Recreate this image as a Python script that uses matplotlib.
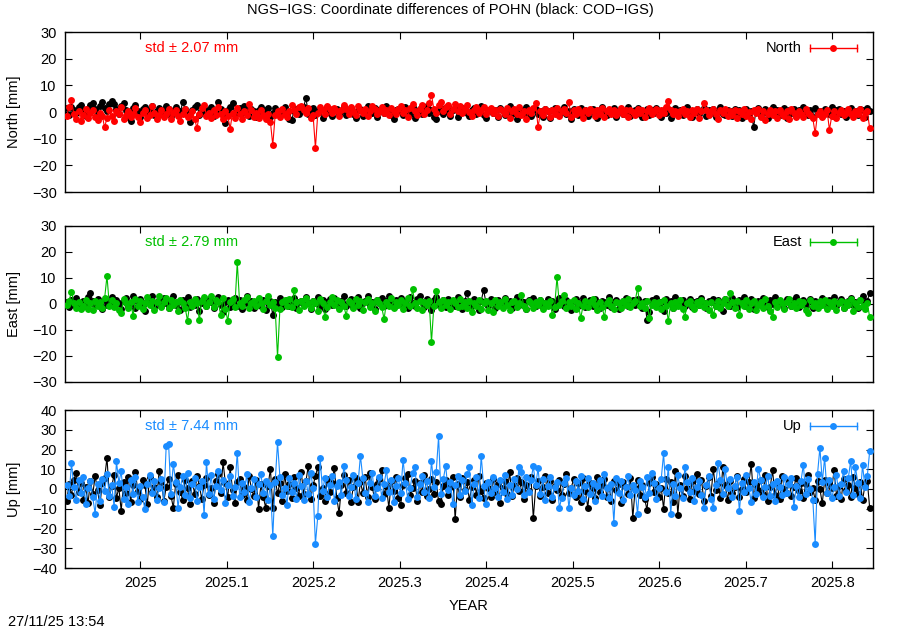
import numpy as np
import matplotlib
matplotlib.use("Agg")
import matplotlib.pyplot as plt

plt.rcParams['font.family'] = ['Liberation Sans', 'DejaVu Sans']
plt.rcParams['font.size'] = 10.5

# daily solutions, first day and count
t_start = 2024.915
n_days = 340
xlim = (2024.913, 2025.847)

xtick_vals = [2025.0, 2025.1, 2025.2, 2025.3, 2025.4, 2025.5, 2025.6, 2025.7, 2025.8]
xtick_labels = ['2025', '2025.1', '2025.2', '2025.3', '2025.4', '2025.5', '2025.6', '2025.7', '2025.8']

# North [mm]: black = COD-IGS, red = NGS-IGS
north_cod = [
    1.5, -1.2, 2.0, 0.8, -0.5, 1.8, 2.5, 0.3, -1.5, 1.2, 2.8, 3.2, 1.0, -0.8, 2.4, 3.8, 1.5, 0.2, 2.9, 4.1,
    3.0, 1.2, -0.6, 2.2, 3.5, 0.8, -1.8, -3.5, 1.4, 2.6, 0.2, -2.0, 1.0, 1.8, -0.4, 0.9, 2.1, -1.2, 0.5, 1.6,
    -0.8, 0.6, 2.2, 1.0, -1.5, 0.3, 1.7, -0.9, 0.4, 3.6, 1.2, -0.5, -3.8, 0.8, 1.9, 2.6, -1.0, 0.2, 1.5, -0.6,
    0.9, 2.0, -1.4, 0.5, 3.8, 1.1, -0.8, -4.2, 0.6, 1.8, 3.2, -1.2, 0.4, 1.6, -0.3, 2.4, 0.7, -1.6, 1.2, 0.3,
    -2.0, 0.8, 1.9, -0.5, 0.6, 1.4, -1.8, -0.4, 1.6, 0.2, -1.0, 0.9, 2.0, -0.7, -2.6, -3.0, 0.5, 1.2, -0.9, 0.4,
    1.8, 5.2, -0.6, 0.9, 1.5, -1.3, 0.2, 1.1, -2.4, 0.6, 1.9, -0.2, -1.5, 0.8, 1.3, -0.8, 0.4, 2.0, -1.1, 0.5,
    1.4, -0.6, -2.2, 0.7, 1.2, -1.6, 0.3, 2.1, 0.9, -0.5, 1.5, -1.9, 0.6, 1.1, -0.4, 2.3, 0.5, -1.3, -2.5, 0.8,
    1.3, 0.2, -1.0, 2.0, 0.6, -0.9, 1.7, -2.3, 0.4, 1.0, -0.6, 1.5, 2.2, -0.3, 0.9, -1.8, -2.8, 0.5, 1.6, -0.7,
    0.3, 1.8, -1.4, 0.6, 1.1, -2.0, 0.2, 1.6, 0.8, -0.5, -1.6, 0.9, 1.4, -0.8, 0.5, 2.3, -1.2, -2.4, 0.7, 1.2,
    -0.4, 0.8, -2.0, 1.5, 0.3, -1.1, 0.9, 2.2, -0.6, 0.4, -2.6, 1.0, 0.6, -0.9, 1.7, -0.2, -1.5, 0.8, 1.3, -0.7,
    0.5, -1.8, 1.2, 0.2, -2.2, 0.9, 1.6, -0.5, -1.3, 0.7, 1.9, -0.8, 0.3, -2.7, 1.1, 0.6, -1.0, 1.5, -0.3, 0.8,
    -1.6, 0.4, 1.3, -0.9, -2.4, 0.6, 1.8, 0.1, -1.2, 0.9, -0.4, 1.4, -2.0, 0.5, 1.0, -0.7, 0.3, 2.0, -1.5, -0.2,
    0.7, 1.6, -0.6, -2.0, 0.4, 1.2, -1.1, 0.8, -0.3, 1.5, 0.2, -1.7, 0.9, -0.5, 1.1, -2.2, 0.3, 1.4, -0.8, 0.6,
    -1.3, 0.9, 1.7, -0.4, -2.0, 0.5, 1.2, -0.9, 0.3, 1.6, -1.5, 0.7, -0.2, 1.1, -1.8, 0.4, 1.9, -0.6, -1.2, 0.8,
    0.2, -1.4, 1.3, -0.7, 0.9, -2.3, 0.5, 1.1, -1.0, 0.3, -5.8, 0.6, 1.4, -1.6, -0.3, 1.0, -2.1, 0.4, 1.7, -0.5,
    0.8, -1.2, 0.3, 1.5, -2.4, 0.6, -0.4, 1.2, -1.6, 0.9, -0.8, 1.8, 0.2, -1.3, 0.7, -2.0, 1.4, -0.3, 0.5, -1.5,
    1.1, 0.4, -0.9, 1.9, -1.4, 0.6, 1.3, -0.7, 0.2, -1.9, 0.9, 1.6, -0.5, 0.3, -1.2, 1.0, 0.6, -2.0, 1.4, 0.5,
]
north_ngs = [
    -1.5, 2.0, 4.6, -0.8, -2.6, 0.5, -3.2, -1.0, 1.2, -2.4, -0.5, 0.8, -1.8, -3.0, -0.2, -1.4, -5.8, -2.2, 0.6, -1.6,
    -3.4, 0.2, -0.9, 1.8, -2.8, -1.2, 0.4, -2.0, -0.6, 1.5, -1.7, -3.6, -0.3, 0.9, -2.2, -1.0, 2.4, -0.4, -2.6, -1.3,
    0.7, -1.9, -0.8, 1.2, -2.5, -0.2, 0.6, -1.5, -3.2, -0.7, 1.0, -2.0, -1.1, 0.3, -2.7, -6.0, -0.9, 1.6, 2.8, -1.4,
    -0.5, -2.3, 0.8, -1.2, 1.9, -0.6, -2.8, 0.4, -1.6, -6.2, -0.3, -2.1, 1.4, -0.8, -2.5, 0.2, -1.3, 2.9, 0.6, -1.7,
    -0.4, -2.2, 0.9, -1.0, -2.8, -0.6, -3.8, -12.4, -1.2, 0.5, -2.0, 1.1, -0.7, -1.8, 0.3, 2.6, 0.8, -0.9, 1.8, 2.4,
    0.6, -0.5, 1.5, -2.2, -1.0, -13.5, -0.4, 1.9, 0.7, -0.8, 2.2, 1.0, -0.3, 1.6, 0.4, -1.4, 0.9, 2.5, 1.2, -0.6,
    1.7, 0.3, -1.1, 2.1, 0.8, -0.4, 1.3, -1.6, 0.5, 2.3, 1.1, -0.9, 0.4, 1.8, -0.2, 0.9, -1.3, 1.5, 0.2, -0.7,
    1.0, 2.4, -0.5, 0.7, -1.9, 1.6, 3.0, 0.3, -1.2, 1.2, 2.6, -0.6, 0.8, 3.4, 6.5, 1.1, -0.4, 2.8, 3.6, 0.5,
    1.9, 2.7, -0.8, 1.3, 3.0, 0.4, 2.2, -0.5, 1.0, 2.5, 0.1, -1.4, 0.9, 1.7, -0.3, 0.6, 2.0, -0.9, 0.8, 1.4,
    -0.2, 0.7, -1.5, 1.2, 0.3, -0.8, 1.6, -2.2, 0.5, 1.0, -0.6, 2.0, -1.0, 0.4, -2.6, 0.9, -0.3, 1.5, 3.4, -5.8,
    0.2, -1.2, 1.1, 0.5, -2.0, 0.8, -0.7, 1.4, -1.6, 0.3, 1.0, -0.5, 3.8, -1.8, 0.6, -0.9, 1.3, -0.2, -2.3, 0.7,
    -0.4, 1.2, 0.3, -1.4, 0.9, -0.8, 1.6, -2.0, 0.4, 1.1, -0.6, 0.7, -1.3, 0.2, 1.5, -0.9, 0.6, -1.7, 0.8, 0.1,
    -1.0, 1.3, -0.3, 0.7, -1.9, 0.5, 1.4, -0.7, 0.2, 1.0, -1.2, 0.6, -0.4, 1.8, 4.0, 0.9, -0.8, 0.4, -1.5, 0.3,
    1.2, -0.6, 0.5, -1.8, 0.8, -0.3, 1.0, -2.1, 0.4, 3.4, 0.7, -1.1, 0.2, 1.3, -0.9, -2.6, 0.6, -0.4, 1.1, -1.6,
    0.3, -1.0, 0.9, -2.4, 0.5, -0.7, 1.2, -1.5, 0.1, -2.8, 0.6, -0.5, 1.0, -1.9, 0.4, -3.0, -0.8, 0.7, -1.3, 0.2,
    -2.2, 0.8, -0.6, -1.4, 0.5, -2.6, 1.0, -0.3, -1.8, 0.4, -0.9, -2.0, 1.3, -0.5, -1.2, -2.4, -8.0, -0.6, 0.3, -1.7,
    -0.8, 0.9, -6.7, -1.5, 0.2, -2.1, -0.4, 0.8, -1.3, -0.2, 1.1, -0.9, -1.8, 0.5, -0.6, 1.0, -2.3, -0.4, 0.3, -6.0,
]

# East [mm]
east_cod = [
    0.8, -1.2, 1.5, -0.4, 2.2, 0.3, -1.6, 1.0, -0.8, 2.6, 4.2, 1.1, -0.5, 2.0, 0.6, -1.8, 1.4, -0.3, 0.9, 2.8,
    -0.6, 1.7, 0.2, -2.0, 1.0, 2.4, -0.9, 0.5, 3.2, -1.4, 0.8, 1.9, -0.2, -2.6, 1.2, 0.4, 2.9, -1.0, 0.6, 1.5,
    -0.8, 2.2, 0.3, -1.7, 1.1, 3.0, -0.4, 0.7, -2.2, 1.6, 0.1, 2.5, -1.2, 0.9, -0.5, 1.8, -2.6, 0.4, 1.3, -0.9,
    2.1, 0.6, -1.5, 1.0, 2.7, -0.3, -2.9, 0.8, 1.5, -1.1, 0.2, 2.3, -0.7, 1.4, -1.9, 0.5, 3.0, -0.2, 1.1, -1.4,
    0.7, 2.0, -0.8, 1.6, -2.3, 0.4, 1.2, -4.2, 0.9, -0.5, 2.4, -1.3, 0.6, 1.7, -0.9, 0.3, 2.2, -1.6, 0.8, 1.3,
    -0.4, 2.6, 0.5, -1.8, 1.0, 0.2, 2.8, -0.7, 1.5, -2.1, 0.6, 1.9, -0.3, 2.4, 0.9, -1.2, 1.3, 3.1, -0.6, 0.4,
    1.8, -1.0, 0.7, 2.5, -1.6, 0.3, 1.2, 2.9, -0.5, 0.8, -2.0, 1.6, 0.2, 2.2, -0.8, 1.0, 3.2, 0.4, -1.3, 1.7,
    0.6, 2.3, -0.9, 1.1, -1.5, 2.7, 0.3, -0.6, 1.9, 3.0, 0.8, -1.1, 2.0, 0.5, -2.4, 1.4, 2.6, -0.4, 0.9, 1.6,
    -1.2, 2.1, 0.4, 1.3, -0.7, 2.5, 0.6, -1.9, 1.0, 4.3, 0.2, -0.8, 1.8, 0.7, -2.2, 1.2, 5.4, 0.5, -0.6, 2.0,
    0.9, -1.4, 1.6, 0.3, -0.9, 2.2, 0.6, 1.3, -1.7, 0.4, 2.6, -0.5, 1.1, 0.8, -2.0, 1.5, 0.2, 2.3, -0.8, 0.7,
    1.4, -1.1, 0.5, 2.0, -0.4, 1.2, -1.8, 0.8, 2.4, 0.1, -0.7, 1.6, 0.5, -2.3, 1.0, 1.9, -0.9, 0.3, 2.2, -1.2,
    0.6, 1.5, -0.6, 2.1, 0.2, -1.5, 1.3, 0.7, -0.3, 2.6, -1.0, 0.9, 1.7, -2.0, 0.4, 1.1, 2.3, -0.8, 0.5, 1.6,
    -0.5, 2.0, 0.8, -1.6, 1.2, -6.0, -3.2, 1.5, 0.3, 2.2, -0.9, 0.6, -2.6, 1.9, 0.4, 1.0, -1.4, 2.5, -0.2, 0.8,
    1.6, -0.7, 0.4, 2.1, -1.2, 0.9, 1.3, -0.4, 2.4, 0.2, -1.6, 1.1, 0.6, 2.0, -0.8, 1.4, 0.3, -2.7, 1.8, 0.5,
    -0.6, 2.2, 0.9, -1.3, 1.5, 0.2, 2.6, -0.9, 0.7, 1.8, -1.8, 0.4, 1.2, -0.5, 2.3, 0.6, -1.0, 1.6, 0.1, 2.8,
    -0.4, 1.0, 0.5, -1.5, 2.0, 0.8, -0.7, 1.4, 2.5, -1.1, 0.3, 1.7, -0.9, 0.6, 2.1, -1.6, 1.2, 0.4, -0.3, 2.4,
    0.9, -1.2, 1.5, 0.2, 2.7, -0.8, 0.6, 1.9, -1.7, 0.4, 1.1, 2.2, -0.5, 0.8, -1.4, 1.6, 2.9, 0.3, 1.2, 4.3,
]
east_ngs = [
    -0.5, 1.2, 4.8, 0.3, -1.4, 0.8, -2.0, -0.6, 1.5, -1.8, 0.2, -2.5, 1.0, -0.9, 0.6, -1.6, 2.2, 10.8, -0.8, 1.4,
    -1.2, 0.5, -2.4, -3.3, 1.8, 0.3, -1.5, 0.9, -4.6, 2.0, -0.7, 1.3, -1.9, 0.4, 2.6, -0.5, 1.1, -2.2, 0.7, 3.0,
    -1.0, 0.6, 2.2, -1.6, 1.4, -0.3, 0.9, -2.6, 1.7, 0.2, -1.4, -6.5, 0.8, -0.9, 1.9, 0.4, -6.3, 1.2, 2.5, -0.6,
    0.9, 3.2, -1.3, 1.5, 0.6, -4.2, 2.4, -1.9, -6.5, 0.8, 1.8, -1.0, 16.0, 0.3, -0.8, 1.6, 2.6, -1.4, 0.5, 1.2,
    -0.6, 2.2, 0.4, -1.8, 1.0, 3.0, -0.3, 0.7, -1.5, -20.4, -2.0, 0.9, 1.6, -0.7, 2.1, -1.2, 5.4, 0.6, -2.3, 1.3,
    -0.9, 2.4, 0.2, -1.6, 1.1, 0.5, -2.8, 1.8, 0.3, -5.0, -1.2, 0.8, 2.6, -0.5, 1.4, -1.9, 0.6, -0.8, -4.5, 1.2,
    0.4, -1.6, 2.0, -0.4, 1.3, -2.2, 0.7, 1.9, -1.0, 0.3, -2.7, 1.5, 0.2, -1.3, -5.8, 0.9, -0.6, 2.3, -1.5, 0.8,
    -0.3, 1.6, -1.8, 0.5, 2.2, -0.9, 5.7, 0.4, -1.4, 1.1, -2.4, 0.7, -0.5, 1.3, -14.6, -0.8, 5.0, 0.6, -1.7, 1.4,
    -0.4, 0.9, -2.0, 1.5, 0.2, -1.2, 2.1, -0.6, 0.8, -1.5, 1.2, -3.0, 0.4, -0.9, 1.7, -1.8, 0.5, 1.0, -2.2, 0.3,
    -3.0, 1.4, -0.7, 0.6, -1.6, 1.9, -0.2, -2.4, 0.8, 1.2, -1.1, 0.4, 3.5, -0.6, -2.0, 1.1, 0.2, -1.4, 0.9, -0.5,
    1.6, -1.9, 0.3, -0.8, 1.2, -4.2, -1.0, 10.4, -0.4, 1.0, 3.5, -1.7, 0.6, -0.9, 1.5, -2.1, 0.4, -5.5, -0.6, 1.1,
    -1.3, 0.7, 1.8, -0.5, -2.3, 0.9, -1.0, -5.0, 0.5, 1.4, -0.7, -1.9, 0.8, 0.2, -1.5, 1.2, -0.4, 2.0, -1.1, 0.3,
    1.0, 6.3, -0.8, 0.4, -1.6, 1.3, -5.5, -0.3, 0.9, -1.2, 0.6, -2.0, 1.5, -0.6, -6.5, 0.2, -1.4, 0.8, -0.9, 1.6,
    -1.8, -5.0, 0.5, 1.2, -0.7, -2.1, 0.9, -0.4, 1.6, -1.3, 0.3, -2.4, 0.7, -4.2, -0.6, 1.1, -1.7, 0.4, 2.0, -0.9,
    4.2, 0.6, -1.5, 1.3, -4.2, 0.2, -0.8, 1.7, -1.9, 0.5, 1.0, -2.2, -0.3, 0.9, -1.4, 1.8, -0.6, -2.6, -5.0, 0.7,
    -1.2, 1.4, 0.3, -2.0, 0.8, 2.1, -0.9, 0.4, -1.6, 1.2, -0.5, 0.9, -2.3, -3.5, 1.5, -0.7, 0.2, -1.4, 1.0, -0.3,
    1.7, -1.8, 0.6, -0.9, 1.3, -2.2, 0.4, 1.0, -1.5, 0.7, -0.4, 2.0, -2.6, 0.3, -1.1, 1.4, -0.6, -2.0, 0.5, -5.0,
]

# Up [mm]
up_cod = [
    -6.0, 2.5, -3.1, 4.8, 8.0, -1.5, 3.2, -5.4, 0.8, -7.2, 4.1, -2.6, 6.5, -0.4, -8.3, 2.9, 5.6, 15.9, -3.8, 1.4,
    7.1, -4.5, 0.6, -11.0, 3.3, -2.1, 5.9, -6.6, 1.9, 8.4, -0.9, -5.1, 4.4, 2.0, -7.8, 6.2, -1.7, 0.9, -4.2, 9.0,
    3.5, -6.1, 1.1, 5.3, -3.4, -9.5, 2.7, 7.0, -1.3, -5.8, 4.6, 0.3, -7.4, 3.9, -2.4, 6.8, 1.5, -4.9, 2.2, 5.5,
    -3.0, 0.7, -6.9, 4.3, 7.7, -1.9, 13.6, 2.8, -4.3, 11.0, -0.6, -7.0, 3.6, 5.2, -2.9, 1.0, -5.5, 6.4, 0.2, -3.6,
    4.7, -10.0, 2.3, -4.0, -9.5, 1.6, 10.3, -9.7, 5.0, -2.2, 3.1, -6.3, 7.4, -1.0, 2.6, -4.6, 6.0, 0.5, -3.3, 8.8,
    -2.5, 4.0, 11.8, -5.2, 1.8, 6.6, 11.2, -3.7, 0.4, -6.0, 5.1, -1.4, 3.0, 10.8, -4.4, -12.3, 2.1, 7.2, -2.0, 4.5,
    -6.7, 1.2, 5.8, -6.4, 3.4, -1.8, 6.1, -3.9, 8.0, 0.9, -5.0, 2.4, 4.9, 9.4, -2.6, 1.3, -9.6, 3.8, -1.1, 6.3,
    -4.8, -7.9, 2.0, 5.4, 7.6, -3.2, 0.6, 4.2, -5.9, 2.8, -1.6, 6.9, -3.5, 0.1, 5.0, -2.3, 3.7, -6.2, -7.4, 1.7,
    4.8, -3.0, 0.8, 6.0, -15.4, 2.5, -4.1, 5.7, -0.7, 3.3, -5.6, 1.0, 4.4, -2.8, 6.5, -1.2, -4.7, 3.0, 0.3, -3.9,
    5.3, -1.5, 2.7, -6.9, 0.6, 4.0, -2.4, 8.6, -3.4, 1.9, 5.8, -1.0, 3.6, -5.3, 2.2, -0.8, 6.1, -14.9, 1.4, 4.3,
    -3.6, 0.9, 6.7, -2.1, 3.9, -5.4, 1.6, -0.5, 4.8, -3.1, 2.3, 7.7, -1.8, 0.7, 4.9, -4.0, 2.9, -6.6, 5.5, -1.2,
    -9.4, 3.1, 0.4, -4.5, 6.2, -1.6, 2.0, 5.3, -3.8, 0.8, -5.9, 4.1, -0.3, 2.6, -7.1, 3.5, 1.1, -2.7, 5.8, -14.9,
    0.5, 4.6, -2.9, 1.8, -5.0, -10.6, 3.2, 6.0, -1.4, 2.5, -4.3, 0.7, -10.0, 5.1, -2.0, 3.4, -6.8, 9.0, -13.2, 2.2,
    -3.7, 6.5, 0.3, -5.2, 3.8, -1.0, 7.4, -2.5, 4.7, -6.1, 1.5, 5.9, -3.3, 10.3, -0.6, 3.0, -4.4, 11.0, 2.1, -5.7,
    4.0, -2.2, 1.2, 6.6, -3.9, 0.2, 5.0, -1.7, 3.3, 12.6, -4.8, 1.9, -0.4, 4.5, -2.6, 7.1, -6.0, 0.8, 9.4, -3.1,
    2.4, -5.3, 6.8, 0.1, -2.0, 4.2, -3.6, 1.0, 5.6, -0.9, 3.0, -4.6, 2.5, 7.0, -1.3, 0.5, -5.8, 3.9, -0.2, -7.2,
    4.6, -1.9, 2.8, 0.6, 9.4, -3.4, 1.3, -5.0, 5.2, -0.7, 2.0, -4.2, 6.3, 0.4, -2.6, 3.7, -5.5, 1.6, 4.1, -9.4,
]
up_ngs = [
    2.0, -3.5, 13.0, 1.2, -5.8, 4.6, -2.1, 6.3, -7.4, 0.5, 3.8, -4.2, -12.5, 2.7, -6.0, 5.1, -1.0, 7.8, -3.6, 1.9,
    -9.0, 14.0, 3.2, 9.0, -5.1, 0.8, -7.6, 4.4, -2.3, 6.0, -6.4, 1.5, -3.9, -10.3, 2.6, 7.2, -1.8, 3.9, -5.5, 0.4,
    5.3, -6.8, 22.0, 23.0, -2.5, 12.8, 3.4, -9.4, 1.1, 6.7, -3.0, 8.0, -4.7, 2.3, 5.6, -6.2, 0.9, 4.1, -13.2, 13.8,
    -2.4, 6.9, -5.3, 1.6, 9.2, -0.5, 4.8, -7.1, 2.2, 6.4, -3.3, 1.0, 18.4, -4.0, 3.1, -1.4, 7.5, -6.5, 0.3, 5.2,
    -3.8, 2.6, 7.8, -2.0, 4.3, -5.7, 1.8, -24.0, 3.5, 23.6, 6.2, -3.1, 0.7, -8.2, 5.4, -1.6, 3.0, -4.9, 7.1, 1.3,
    -5.5, 4.0, -2.7, 8.3, 0.6, -27.7, -13.8, 15.9, -1.2, 5.7, -4.3, 2.0, 6.8, -6.1, 1.4, 3.6, -2.9, 11.8, 4.5, -3.7,
    0.9, 7.3, -5.0, 2.8, 16.9, 5.5, -1.9, -6.6, 3.2, 8.1, -3.5, 0.4, 6.0, -4.5, 2.4, 9.6, -1.5, 4.7, -6.8, 1.7,
    5.8, -2.2, 14.9, 3.0, -5.0, 0.6, 7.9, 11.3, -3.8, 2.5, 6.4, -1.3, 4.1, -4.4, 14.4, 1.2, 8.7, 26.6, -2.6, 5.0,
    11.8, -0.7, 3.4, -7.4, 1.9, 6.6, -3.2, 4.8, -1.1, 7.5, 11.0, -8.2, 2.7, 5.9, -4.6, 16.9, 1.6, -7.7, 3.3, -2.0,
    6.2, 0.5, -4.0, 4.4, -1.7, 7.0, -5.2, 2.1, -2.8, 5.3, 0.2, 11.3, 8.4, -3.0, 6.1, -1.5, 4.7, 11.4, 2.0, 10.5,
    -2.3, 4.9, -5.6, 1.4, 6.3, -3.9, 0.8, 3.7, -9.4, -4.4, 2.9, 5.5, -9.7, 0.6, -3.2, 4.2, -1.0, 6.8, -5.1, 1.3,
    5.8, -2.6, 3.0, -6.0, 1.7, 4.6, -3.4, 7.5, 0.4, -4.8, 2.5, -17.0, 5.6, -1.9, 3.8, -5.7, 0.9, 6.4, -3.0, 2.2,
    -0.6, -12.8, 4.3, 1.1, -4.1, 6.0, -2.0, 8.2, 3.2, -5.3, 0.7, 5.1, 18.0, -1.6, 11.3, -12.8, 2.6, -3.6, 6.9, 0.3,
    -4.7, 11.3, 3.5, -1.3, 5.8, -6.3, 1.2, 4.0, -3.1, -9.4, 2.0, 6.7, -5.0, -9.4, 1.8, 13.3, 4.4, -2.4, 10.3, 0.5,
    5.2, -3.9, 1.7, 6.0, -11.2, 2.9, -1.4, 7.3, 0.6, -6.6, 3.6, -2.3, 10.3, 4.8, -4.2, 1.1, 6.5, -3.5, 2.3, -5.9,
    4.0, 0.8, -3.0, 6.2, -1.8, 2.7, 5.5, -8.9, 1.4, -4.0, 3.9, 12.3, -2.5, 5.0, 0.2, -5.4, -27.7, 7.8, 21.0, 3.6,
    15.9, -2.0, 4.5, -4.8, 1.0, 7.1, -3.3, 2.6, 9.0, -1.5, 5.6, 14.4, -2.9, 11.0, 3.1, -4.6, 12.3, 0.9, 6.4, 19.0,
]

comps = ['North', 'East', 'Up']
stds = [2.07, 2.79, 7.44]
colors = ['#ff0000', '#00c000', '#1a8cff']
ylims = [(-30, 30), (-30, 30), (-40, 40)]

t = t_start + np.arange(n_days) / 365.25

fig = plt.figure(figsize=(9, 6.3), dpi=100)
W, H = 900.0, 630.0
# left, top, bottom in pixels
boxes = [(65, 32, 192), (65, 226, 382), (65, 410, 568)]

series = [(north_cod, north_ngs), (east_cod, east_ngs), (up_cod, up_ngs)]

for i, (comp, sd, col, yl, box, (cod, ngs)) in enumerate(zip(comps, stds, colors, ylims, boxes, series)):
    l, top, bot = box
    ax = fig.add_axes([l / W, 1 - bot / H, 808 / W, (bot - top) / H])
    ax.axhline(0, color='#808080', lw=0.8, ls=(0, (1, 3)), zorder=1)
    ax.plot(t, cod, color='black', lw=0.8, marker='o', ms=5, mew=0, zorder=2)
    ax.plot(t, ngs, color=col, lw=0.8, marker='o', ms=5, mew=0, zorder=3)
    ax.set_xlim(*xlim)
    ax.set_ylim(*yl)
    ax.set_yticks(np.arange(yl[0], yl[1] + 1, 10))
    ax.set_xticks(xtick_vals)
    if i == 2:
        ax.set_xticklabels(xtick_labels)
        ax.set_xlabel('YEAR', labelpad=6)
    else:
        ax.set_xticklabels([])
    ax.set_ylabel(comp + ' [mm]', labelpad=8)
    ax.tick_params(direction='in', length=5, width=0.8, top=True, right=True, pad=6)
    for s in ax.spines.values():
        s.set_linewidth(1.0)

    # std annotation and gnuplot-style key
    h = bot - top
    ky = 1 - 16.0 / h
    ax.text(0.099, ky, 'std \u00b1 %.2f mm' % sd, color=col, transform=ax.transAxes,
            ha='left', va='center')
    ax.text(0.912, ky, comp, color='black', transform=ax.transAxes, ha='right', va='center')
    ax.plot([0.922, 0.980], [ky, ky], color=col, lw=1, marker='|', ms=6, mew=1,
            transform=ax.transAxes, clip_on=False)
    ax.plot([0.951], [ky], color=col, marker='o', ms=5, mew=0, transform=ax.transAxes)

fig.text(0.5, 1 - 10 / H, 'NGS\u2212IGS: Coordinate differences of POHN (black: COD\u2212IGS)',
         ha='center', va='center')
fig.text(8 / W, 1 - 622 / H, '27/11/25 13:54', ha='left', va='center')

fig.savefig('out.png', dpi=100)
